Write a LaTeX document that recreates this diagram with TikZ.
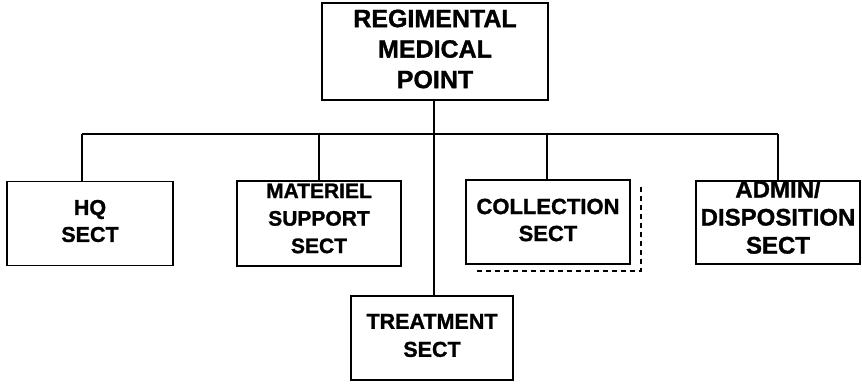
\documentclass[tikz,border=0pt]{standalone}
\usepackage{fontspec}
\setmainfont{Liberation Sans}[BoldFeatures={FakeBold=1.2}]
\begin{document}
\begin{tikzpicture}[x=1pt,y=-1pt,
  box/.style={draw, line width=1.9pt, inner sep=0pt},
  conn/.style={line width=1.9pt},
  shadowline/.style={line width=2pt, dash pattern=on 5pt off 4pt},
  txt/.style={align=center, inner sep=0pt},
  fs/.style 2 args={font=\fontsize{#1}{#2}\selectfont\bfseries}]
\useasboundingbox (0,0) rectangle (862,385);
\fill[white] (0,0) rectangle (862,385);

% top box
\node[box, minimum width=226pt, minimum height=97pt,
  label={[txt, fs={25}{30.5}, yshift=2.5pt]center:REGIMENTAL\\MEDICAL\\POINT}] (top) at (435,51.5) {};

% section boxes
\node[box, minimum width=166pt, minimum height=84pt,
  label={[txt, fs={21.5}{27}, yshift=2.5pt]center:HQ\\SECT}] (hq) at (90,223.5) {};
\node[box, minimum width=164pt, minimum height=85pt,
  label={[txt, fs={21}{27.5}, yshift=5pt]center:MATERIEL\\SUPPORT\\SECT}] (mat) at (319,223.5) {};
\node[box, minimum width=164pt, minimum height=84pt,
  label={[txt, fs={22}{27}, yshift=2pt]center:COLLECTION\\SECT}] (col) at (548,222) {};
\node[box, minimum width=164pt, minimum height=83pt,
  label={[txt, fs={24}{28}, yshift=5.5pt]center:ADMIN/\\DISPOSITION\\SECT}] (adm) at (778,222.5) {};
\node[box, minimum width=162pt, minimum height=84pt,
  label={[txt, fs={21.5}{28}, yshift=2.5pt]center:TREATMENT\\SECT}] (tr) at (432,338) {};

% bus
\coordinate (b1) at (82,134);
\coordinate (b2) at (319,134);
\coordinate (b3) at (434,134);
\coordinate (b4) at (547,134);
\coordinate (b5) at (778,134);

\draw[conn] (top.south -| b3) -- (b3);
\draw[conn] (b1) -- (b5);
\draw[conn] (b1) -- (b1 |- hq.north);
\draw[conn] (b2) -- (b2 |- mat.north);
\draw[conn] (b3) -- (b3 |- tr.north);
\draw[conn] (b4) -- (b4 |- col.north);
\draw[conn] (b5) -- (b5 |- adm.north);

% dashed shadow of collection box
\draw[shadowline] ([xshift=10pt,yshift=-8pt]col.north east) |- ([xshift=9pt,yshift=-6pt]col.south west);
\end{tikzpicture}
\end{document}
